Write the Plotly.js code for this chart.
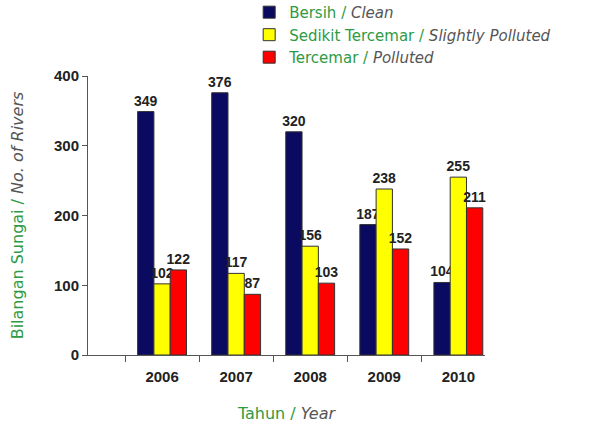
<!DOCTYPE html>
<html>
<head>
<meta charset="utf-8">
<script src="https://cdn.plot.ly/plotly-3.0.1.min.js"></script>
<style>html,body{margin:0;padding:0;background:#fff;}#chart{width:598px;height:423px;}</style>
</head>
<body>
<div id="chart"></div>
<script>
const years = ['2006', '2007', '2008', '2009', '2010'];
const clean = [349, 376, 320, 187, 104];
const slightlyPolluted = [102, 117, 156, 238, 255];
const polluted = [122, 87, 103, 152, 211];
const seriesNames = [
  'Bersih / <i><span style="color:#555">Clean</span></i>',
  'Sedikit Tercemar / <i><span style="color:#555">Slightly Polluted</span></i>',
  'Tercemar / <i><span style="color:#555">Polluted</span></i>'
];
const seriesColors = ['#0a0a60', '#ffff00', '#ff0000'];
const seriesValues = [clean, slightlyPolluted, polluted];

const traces = seriesValues.map((vals, i) => ({
  type: 'bar',
  x: years,
  y: vals,
  name: seriesNames[i],
  text: vals.map(String),
  textposition: 'outside',
  constraintext: 'none',
  cliponaxis: false,
  textfont: {family: 'Liberation Sans, Arial, sans-serif', size: 14, color: '#222', weight: 'bold'},
  marker: {color: seriesColors[i], line: {color: '#333', width: 1}}
}));

const layout = {
  width: 598, height: 423,
  margin: {l: 88, r: 113, t: 76, b: 68, autoexpand: false},
  paper_bgcolor: '#fff', plot_bgcolor: '#fff',
  barmode: 'group',
  bargap: 0.34,
  bargroupgap: 0,
  font: {family: 'DejaVu Sans, sans-serif', color: '#222'},
  showlegend: true,
  legend: {
    x: 0.406, y: 1.287, xanchor: 'left', yanchor: 'top',
    font: {size: 15, color: '#2e9a44', family: 'DejaVu Sans, sans-serif'},
    bgcolor: 'rgba(0,0,0,0)', tracegroupgap: 0, itemwidth: 30
  },
  xaxis: {
    type: 'category',
    range: [-1, 4.36],
    automargin: false,
    showgrid: false, zeroline: false,
    showline: true, linecolor: '#555', linewidth: 1,
    ticks: 'outside', tickson: 'boundaries', ticklen: 6, tickcolor: '#555',
    ticklabelstandoff: 8,
    tickfont: {family: 'Liberation Sans, Arial, sans-serif', size: 15, color: '#222', weight: 'bold'},
    title: {text: 'Tahun / <i><span style="color:#555">Year</span></i>', font: {size: 16, color: '#2e9a44'}, standoff: 26}
  },
  yaxis: {
    range: [0, 400],
    dtick: 100,
    automargin: false,
    showgrid: false, zeroline: false,
    showline: true, linecolor: '#555', linewidth: 1,
    ticks: 'outside', ticklen: 5, tickcolor: '#555',
    tickfont: {family: 'Liberation Sans, Arial, sans-serif', size: 15, color: '#222', weight: 'bold'},
    title: {text: 'Bilangan Sungai / <i><span style="color:#555">No. of Rivers</span></i>', font: {size: 16, color: '#2e9a44'}, standoff: 26}
  }
};

Plotly.newPlot('chart', traces, layout, {displayModeBar: false, staticPlot: true});
</script>
</body>
</html>
